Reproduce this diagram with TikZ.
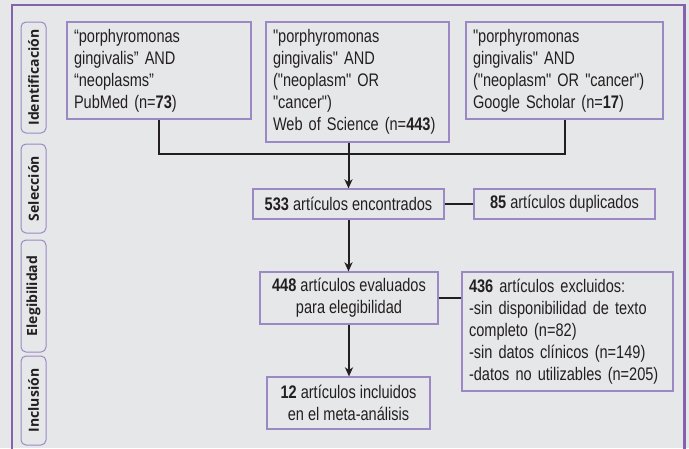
\documentclass[tikz,border=0pt]{standalone}
\usepackage{fontspec}
\setmainfont{Liberation Sans}[FakeStretch=0.8, Ligatures=TeXOff]
\newfontfamily\stagefont{Open Sans}
\usepackage{xcolor}
\usetikzlibrary{calc,positioning,arrows.meta}

\definecolor{bgGray}{HTML}{E6E7E8}
\definecolor{frameLila}{HTML}{8462AE}
\definecolor{boxLila}{HTML}{9D88C6}
\definecolor{inkDark}{HTML}{231F20}

\begin{document}
\begin{tikzpicture}[x=1pt, y=-1pt,
  box/.style={draw=boxLila, line width=1.2pt, fill=bgGray, inner xsep=7pt,
    inner ysep=0pt, text=inkDark, font=\fontsize{18.2}{22}\selectfont},
  stage/.style={draw=boxLila, line width=1pt, rounded corners=5pt, fill=bgGray,
    rotate=90, minimum height=25pt, inner sep=0pt, text=inkDark,
    font=\stagefont\bfseries\fontsize{14}{16}\selectfont},
  link/.style={draw=inkDark, line width=2pt},
  arrow/.style={link, -{Stealth[length=9pt, width=8pt, inset=2.5pt]}}]

  % canvas and frame
  \clip (0,0) rectangle (689,448);
  \fill[bgGray] (0,0) rectangle (689,448);
  \draw[frameLila, line width=2.5pt] (12,460) -- (12,5) -- (684.5,5) -- (684.5,460);

  % stages
  \node[stage, minimum width=111pt] (sIdent) at (33.5,77.5)  {Identificación};
  \node[stage, minimum width=89pt]  (sSelec) at (33.5,188.5) {Selección};
  \node[stage, minimum width=112pt] (sElegi) at (33.5,296)   {Elegibilidad};
  \node[stage, minimum width=89pt]  (sInclu) at (33.5,400.5) {Inclusión};

  % searches
  \node[box, minimum width=184pt, minimum height=97pt, text width=170pt, align=left]
    (pubmed) at (159,70.5)
    {“porphyromonas\\gingivalis” AND\\“neoplasms”\\PubMed (n=\textbf{73})};
  \node[box, minimum width=183pt, minimum height=120pt, text width=169pt, align=left]
    (wos) at (357.5,82)
    {"porphyromonas\\gingivalis" AND\\("neoplasm" OR\\"cancer")\\Web of Science (n=\textbf{443})};
  \node[box, minimum width=197pt, minimum height=97pt, text width=183pt, align=left]
    (scholar) at (564.5,70.5)
    {"porphyromonas\\gingivalis" AND\\("neoplasm" OR "cancer")\\Google Scholar (n=\textbf{17})};

  % screening
  \node[box, minimum width=191pt, minimum height=30pt, align=center]
    (found) at (348.5,204) {\textbf{533} artículos encontrados};
  \node[box, minimum width=181pt, minimum height=30pt, align=center]
    (dup) at (564.5,204) {\textbf{85} artículos duplicados};

  % eligibility
  \node[box, minimum width=178pt, minimum height=52pt, align=center]
    (eval) at (349,298) {\textbf{448} artículos evaluados\\para elegibilidad};
  \node[box, minimum width=211pt, minimum height=119pt, text width=197pt, align=left]
    (excl) at (567.5,331.5)
    {\textbf{436} artículos excluidos:\\-sin disponibilidad de texto\\completo (n=82)\\-sin datos clínicos (n=149)\\-datos no utilizables (n=205)};

  % inclusion
  \node[box, minimum width=163pt, minimum height=52pt, align=center]
    (incl) at (348.5,403) {\textbf{12} artículos incluidos\\en el meta-análisis};

  % connectors
  \coordinate (merge) at (348.5,154);
  \draw[link] (pubmed.south) |- (merge) -| (scholar.south);
  \draw[arrow] (found.north |- wos.south) -- (found.north);
  \draw[link] (found.east) -- (dup.west);
  \draw[arrow] (found.south) -- (found.south |- eval.north);
  \draw[link] (eval.east) -- (eval.east -| excl.west);
  \draw[arrow] (eval.south) -- (eval.south |- incl.north);
\end{tikzpicture}
\end{document}
